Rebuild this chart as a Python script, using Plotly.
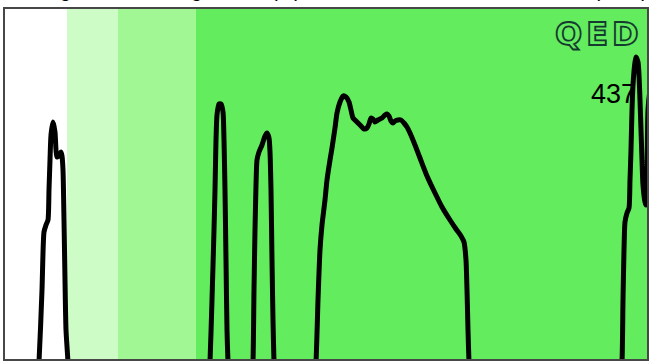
import plotly.graph_objects as go

# Trace samples (channel index, signal level)
x_vals = [
    32, 35, 38, 40, 42, 44, 45, 46, 47, 49, 51, 52, 53, 55, 57, 58, 59, 60, 61, 62, 64, 66,
    204, 206, 208, 210, 211, 212, 213, 215, 217, 219, 220, 221, 222, 223, 224, 226,
    247, 249, 250, 251, 252, 253, 255, 258, 261, 263, 265, 266, 267, 268, 269, 270, 272,
    309, 312, 314, 316, 318, 321, 323, 326, 328, 331, 333, 336, 339, 342, 345, 347, 349, 352,
    354, 357, 360, 363, 365, 367, 369, 371, 374, 378, 381, 383, 385, 387, 389, 391, 394, 397,
    400, 403, 406, 411, 416, 423, 431, 438, 446, 452, 457, 460, 462, 463, 464, 465, 467,
    615, 618, 619, 620, 621, 623, 625, 626, 627, 628, 629, 631, 632, 634, 635, 636, 637, 638,
    639, 641, 642, 643, 644, 646, 648,
]
y_vals = [
    94, 132, 204, 262, 269, 274, 304, 334, 359, 372, 362, 344, 337, 338, 342, 338, 324, 274, 214, 164, 132, 94,
    94, 132, 194, 264, 304, 354, 379, 390, 390, 382, 354, 304, 234, 164, 132, 94,
    94, 132, 204, 264, 309, 334, 342, 349, 358, 361, 356, 342, 304, 234, 174, 132, 94,
    94, 132, 194, 244, 269, 294, 314, 334, 346, 366, 381, 392, 398, 397, 392, 384, 376, 373,
    371, 368, 365, 366, 370, 376, 375, 372, 374, 376, 379, 380, 378, 373, 371, 373, 374, 374,
    371, 367, 361, 349, 336, 318, 301, 287, 274, 265, 258, 252, 234, 204, 164, 132, 94,
    94, 132, 194, 244, 272, 281, 286, 314, 344, 384, 409, 432, 437, 432, 419, 394, 364, 334,
    309, 292, 289, 314, 384, 404, 414,
]

# Shaded zones along the channel axis
band_edges = [0, 63, 114, 192, 644]
band_colors = ["#ffffff", "#cdfcc6", "#a0f794", "#63ec5d"]

x_range = [0, 644]
y_range = [134, 486]

title_text = "Signal Echo Range Delta (m) with the Beacon Downlink Band (MHz)"
logo_text = "QED"

fig = go.Figure()

fig.add_trace(go.Scatter(
    x=x_vals, y=y_vals, mode="lines",
    line=dict(color="#000000", width=5, shape="spline", smoothing=0.6),
    hoverinfo="skip", showlegend=False,
))

for x0, x1, c in zip(band_edges[:-1], band_edges[1:], band_colors):
    fig.add_shape(type="rect", xref="x", yref="paper", x0=x0, x1=x1, y0=0, y1=1,
                  fillcolor=c, line=dict(width=0), layer="below")

# plot frame
fig.add_shape(type="rect", xref="paper", yref="paper", x0=0, x1=1, y0=0, y1=1,
              line=dict(color="#474747", width=2), fillcolor="rgba(0,0,0,0)", layer="above")

# peak value label
peak_val = max(y_vals)
peak_x = x_vals[y_vals.index(peak_val)]
fig.add_annotation(
    x=peak_x - 47, y=peak_val - 37, xref="x", yref="y",
    text=str(peak_val), showarrow=False, xanchor="left", yanchor="middle",
    font=dict(family="Liberation Sans, Arial", size=27, color="#000000"),
)

# logo
fig.add_annotation(
    x=0.996, y=0.926, xref="paper", yref="paper",
    text='<span style="letter-spacing:4px;fill:#63ec5d;stroke:#153a2f;stroke-width:1.8px">'
         + logo_text + "</span>",
    showarrow=False, xanchor="right", yanchor="middle",
    font=dict(family="DejaVu Sans", size=32, color="#153a2f", weight="bold"),
)

# title above the frame
fig.add_annotation(
    x=0.056, y=1, xref="paper", yref="paper", yshift=5,
    text=title_text, showarrow=False, xanchor="left", yanchor="bottom",
    font=dict(family="Liberation Sans, Arial", size=20, color="#000000"),
)

fig.update_xaxes(range=x_range, visible=False, showgrid=False, zeroline=False)
fig.update_yaxes(range=y_range, visible=False, showgrid=False, zeroline=False)

fig.update_layout(
    width=650, height=362,
    margin=dict(l=4, r=2, t=8, b=2),
    paper_bgcolor="#ffffff", plot_bgcolor="#ffffff",
    showlegend=False,
)

fig.write_html("out.html")
